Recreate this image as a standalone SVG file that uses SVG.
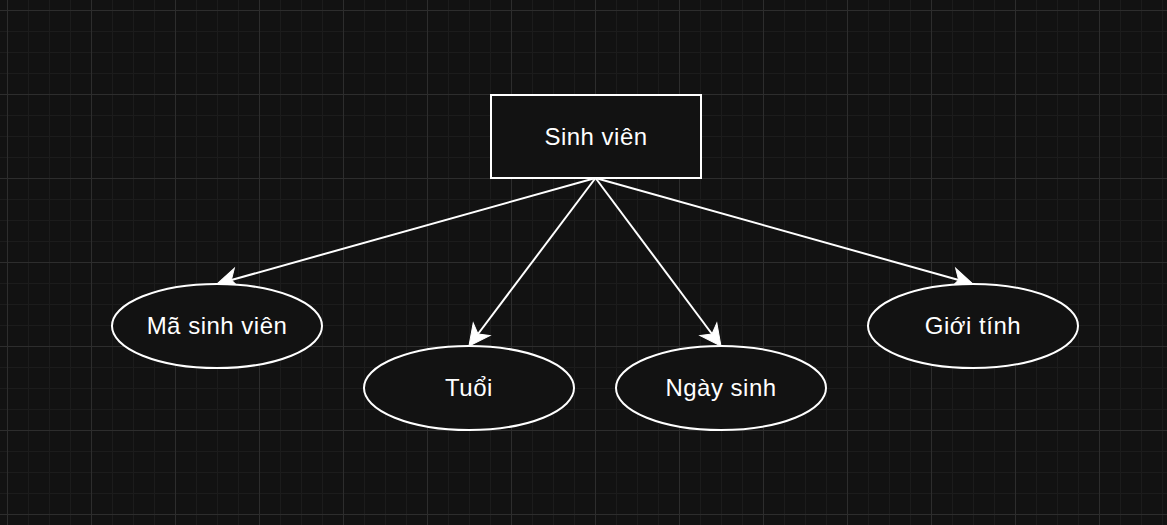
<svg xmlns="http://www.w3.org/2000/svg" width="1167" height="525" viewBox="0 0 1167 525">
  <defs>
    <pattern id="grid" patternUnits="userSpaceOnUse" x="7" y="10" width="84" height="84">
      <path d="M21.5 0V84M42.5 0V84M63.5 0V84M0 21.5H84M0 42.5H84M0 63.5H84" stroke="#1c1c1c" stroke-width="1" fill="none"/>
      <path d="M0.5 0V84M0 0.5H84" stroke="#2d2d2d" stroke-width="1" fill="none"/>
    </pattern>
    <marker id="arrow" markerUnits="userSpaceOnUse" markerWidth="40" markerHeight="40" refX="0" refY="0" orient="auto" overflow="visible">
      <path d="M15,0 L-6,-10.5 L0,0 L-6,10.5 Z" fill="#ffffff" stroke="#ffffff" stroke-width="1" stroke-linejoin="miter"/>
    </marker>
    <style>
      .node { fill: #121212; stroke: #ffffff; stroke-width: 2; }
      .label { font-family: "Liberation Sans", Arial, sans-serif; font-size: 24px; letter-spacing: 0.5px; fill: #ffffff; text-anchor: middle; }
      .edge { stroke: #ffffff; stroke-width: 2; fill: none; marker-end: url(#arrow); }
    </style>
  </defs>
  <rect x="0" y="0" width="1167" height="525" fill="#121212"/>
  <rect x="0" y="0" width="1167" height="525" fill="url(#grid)"/>

  <g id="connectors">
    <path class="edge" d="M595.5 178 L231.4 280"/>
    <path class="edge" d="M595.5 178 L478 334"/>
    <path class="edge" d="M595.5 178 L712 334"/>
    <path class="edge" d="M595.5 178 L958.6 280"/>
  </g>

  <g id="sinh-vien">
    <rect class="node" x="491" y="95" width="210" height="83"/>
    <text class="label" x="596" y="145">Sinh viên</text>
  </g>
  <g id="ma-sinh-vien">
    <ellipse class="node" cx="217" cy="326" rx="105" ry="42"/>
    <text class="label" x="217" y="334">Mã sinh viên</text>
  </g>
  <g id="tuoi">
    <ellipse class="node" cx="469" cy="388" rx="105" ry="42"/>
    <text class="label" x="469" y="396">Tuổi</text>
  </g>
  <g id="ngay-sinh">
    <ellipse class="node" cx="721" cy="388" rx="105" ry="42"/>
    <text class="label" x="721" y="396">Ngày sinh</text>
  </g>
  <g id="gioi-tinh">
    <ellipse class="node" cx="973" cy="326" rx="105" ry="42"/>
    <text class="label" x="973" y="334">Giới tính</text>
  </g>
</svg>
